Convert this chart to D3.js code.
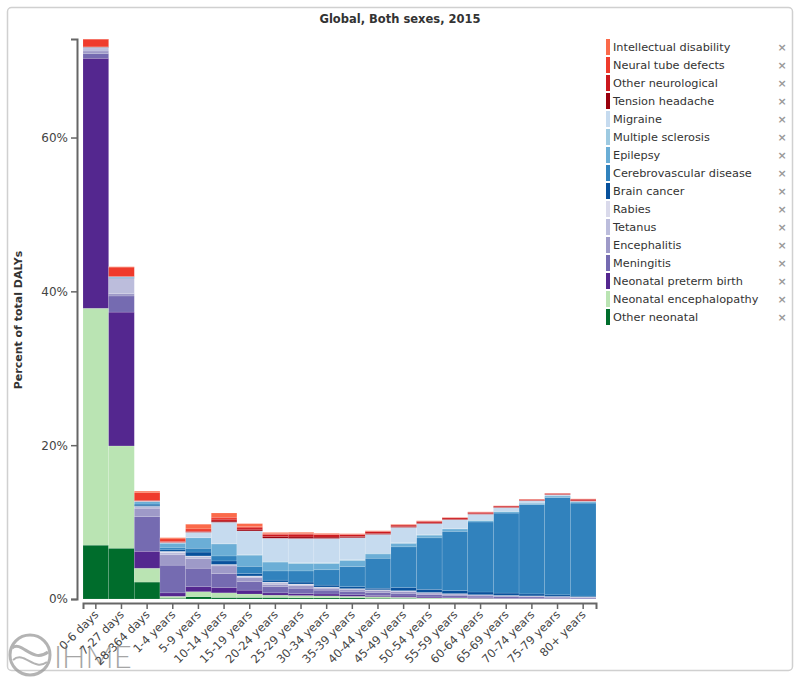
<!DOCTYPE html>
<html>
<head>
<meta charset="utf-8">
<script src="https://cdn.jsdelivr.net/npm/d3@7"></script>
<style>
  html, body { margin: 0; padding: 0; background: #fff; }
  svg { display: block; font-family: "DejaVu Sans", sans-serif; }
</style>
</head>
<body>
<svg id="chart" width="800" height="679"></svg>
<script>
// ---------- DATA ----------
const categories = ["0-6 days","7-27 days","28-364 days","1-4 years","5-9 years","10-14 years","15-19 years","20-24 years","25-29 years","30-34 years","35-39 years","40-44 years","45-49 years","50-54 years","55-59 years","60-64 years","65-69 years","70-74 years","75-79 years","80+ years"];

// stacking order: bottom -> top
const seriesNames = ["Other neonatal","Neonatal encephalopathy","Neonatal preterm birth","Meningitis","Encephalitis","Tetanus","Rabies","Brain cancer","Cerebrovascular disease","Epilepsy","Multiple sclerosis","Migraine","Tension headache","Other neurological","Neural tube defects","Intellectual disability"];
const seriesColors = ["#006d2c","#bae4b3","#54278f","#756bb1","#9e9ac8","#bcbddc","#dadaeb","#08519c","#3182bd","#6baed6","#9ecae1","#c6dbef","#99000d","#cb181d","#ef3b2c","#fb6a4a"];

const otherNeonatal   = [7.0, 6.6, 2.2, 0.1, 0.3, 0.2, 0.2, 0.2, 0.15, 0.15, 0.15, 0.1, 0.08, 0.05, 0.05, 0.03, 0.02, 0.02, 0.01, 0.01];
const neonatalEnceph  = [30.8, 13.3, 1.8, 0.25, 0.65, 0.6, 0.45, 0.3, 0.3, 0.25, 0.2, 0.2, 0.15, 0.1, 0.08, 0.05, 0.03, 0.02, 0.02, 0.01];
const pretermBirth    = [32.5, 17.4, 2.2, 0.45, 0.65, 0.7, 0.5, 0.3, 0.25, 0.25, 0.2, 0.15, 0.15, 0.12, 0.1, 0.08, 0.05, 0.04, 0.03, 0.02];
const meningitis      = [0.6, 2.1, 4.5, 3.6, 2.4, 1.8, 1.1, 0.8, 0.7, 0.5, 0.45, 0.4, 0.35, 0.3, 0.25, 0.22, 0.2, 0.18, 0.15, 0.12];
const encephalitis    = [0.35, 0.3, 1.1, 1.35, 1.25, 1.0, 0.55, 0.3, 0.35, 0.25, 0.25, 0.25, 0.25, 0.2, 0.15, 0.12, 0.12, 0.1, 0.1, 0.08];
const tetanus         = [0.4, 2.0, 0.2, 0.3, 0.3, 0.15, 0.15, 0.2, 0.15, 0.1, 0.07, 0.07, 0.05, 0.05, 0.04, 0.04, 0.03, 0.03, 0.02, 0.02];
const rabies          = [0, 0, 0.05, 0.15, 0.05, 0.05, 0.05, 0.1, 0.05, 0.05, 0.03, 0.03, 0.05, 0.03, 0.03, 0.02, 0.02, 0.02, 0.01, 0.01];
const brainCancer     = [0.02, 0.05, 0.15, 0.2, 0.5, 0.45, 0.3, 0.25, 0.25, 0.25, 0.25, 0.2, 0.4, 0.4, 0.4, 0.35, 0.3, 0.25, 0.2, 0.1];
const cerebrovascular = [0.02, 0.05, 0.15, 0.25, 0.5, 0.65, 0.95, 1.2, 1.45, 2.0, 2.6, 3.9, 5.3, 6.7, 7.7, 9.1, 10.4, 11.6, 12.65, 12.1];
const epilepsy        = [0.05, 0.1, 0.3, 0.6, 1.35, 1.55, 1.45, 1.15, 0.95, 0.8, 0.8, 0.55, 0.45, 0.35, 0.3, 0.2, 0.2, 0.2, 0.2, 0.15];
const multipleSclerosis = [0, 0, 0.02, 0, 0.02, 0.03, 0.05, 0.1, 0.12, 0.12, 0.12, 0.1, 0.08, 0.06, 0.05, 0.03, 0.02, 0.01, 0.01, 0];
const migraine        = [0, 0, 0.05, 0.1, 0.7, 2.8, 3.1, 3.0, 3.15, 3.15, 2.85, 2.45, 2.0, 1.45, 1.15, 0.78, 0.48, 0.3, 0.15, 0.1];
const tensionHeadache = [0, 0, 0, 0.02, 0.05, 0.15, 0.15, 0.2, 0.2, 0.18, 0.15, 0.12, 0.1, 0.08, 0.08, 0.07, 0.06, 0.05, 0.05, 0.05];
const otherNeuro      = [0.05, 0.05, 0.1, 0.1, 0.1, 0.25, 0.25, 0.3, 0.35, 0.3, 0.25, 0.25, 0.2, 0.2, 0.17, 0.18, 0.15, 0.13, 0.13, 0.2];
const neuralTube      = [1.0, 1.2, 1.0, 0.35, 0.3, 0.25, 0.15, 0.1, 0.1, 0.08, 0.05, 0.05, 0.05, 0.04, 0.03, 0.03, 0.02, 0.02, 0.01, 0.03];
const intellectual    = [0.02, 0.05, 0.2, 0.15, 0.6, 0.55, 0.4, 0.15, 0.15, 0.1, 0.07, 0.05, 0.06, 0.04, 0.03, 0.03, 0.02, 0.02, 0.02, 0.02];

const seriesValues = [otherNeonatal, neonatalEnceph, pretermBirth, meningitis, encephalitis, tetanus, rabies, brainCancer, cerebrovascular, epilepsy, multipleSclerosis, migraine, tensionHeadache, otherNeuro, neuralTube, intellectual];
const yTicks = [0, 20, 40, 60];
const titleText = "Global, Both sexes, 2015";
const yLabel = "Percent of total DALYs";

// ---------- BUILD ----------
const svg = d3.select("#chart");

// frame
svg.append("rect").attr("x", 7.5).attr("y", 7.5).attr("width", 785).attr("height", 663)
  .attr("rx", 4).attr("fill", "#fff").attr("stroke", "#d0d0d0").attr("stroke-width", 1.5);

svg.append("text").attr("x", 400).attr("y", 23).attr("text-anchor", "middle")
  .attr("font-size", 11.5).attr("font-weight", "bold").attr("fill", "#333").text(titleText);

const table = categories.map((c, i) => {
  const row = { cat: c };
  seriesNames.forEach((s, j) => row[s] = seriesValues[j][i]);
  return row;
});
const stacked = d3.stack().keys(seriesNames)(table);
const totals = table.map(r => d3.sum(seriesNames, s => r[s]));

const x = d3.scaleBand().domain(categories).range([83, 596]).padding(0);
const y = d3.scaleLinear().domain([0, d3.max(totals)]).range([599, 39]);

// IHME watermark
const logo = svg.append("g").attr("opacity", 0.75);
logo.append("circle").attr("cx", 30).attr("cy", 655).attr("r", 20)
  .attr("fill", "none").attr("stroke", "#9a9a9a").attr("stroke-width", 3);
logo.append("path").attr("d", "M12,648 C22,640 32,664 48,652").attr("fill", "none").attr("stroke", "#9a9a9a").attr("stroke-width", 3);
logo.append("path").attr("d", "M13,660 C24,650 34,672 47,662").attr("fill", "none").attr("stroke", "#9a9a9a").attr("stroke-width", 2);
logo.append("text").attr("x", 54).attr("y", 668).attr("font-size", 31).attr("font-family", "Lato, sans-serif")
  .attr("font-weight", 300).attr("fill", "#888").text("IHME");

// bars
const g = svg.append("g");
g.selectAll("g.layer").data(stacked).join("g")
  .attr("class", "layer")
  .attr("fill", (d, i) => seriesColors[i])
  .selectAll("rect").data(d => d).join("rect")
  .attr("x", d => x(d.data.cat))
  .attr("width", x.bandwidth())
  .attr("y", d => y(d[1]))
  .attr("height", d => Math.max(0, y(d[0]) - y(d[1])))
  .attr("stroke", "#fff").attr("stroke-opacity", 0.2).attr("stroke-width", 0.6);

// y axis
const yAxis = svg.append("g").attr("transform", "translate(77,0)")
  .call(d3.axisLeft(y).tickValues(yTicks).tickFormat(d => d + "%").tickSize(6).tickSizeOuter(6));
yAxis.select(".domain").attr("stroke", "#666").attr("stroke-width", 2);
yAxis.selectAll(".tick line").attr("stroke", "#666").attr("stroke-width", 1.5);
yAxis.selectAll(".tick text").attr("font-size", 12).attr("fill", "#444").attr("font-family", "DejaVu Sans, sans-serif");

// x axis
const xAxis = svg.append("g").attr("transform", "translate(0,603)")
  .call(d3.axisBottom(x).tickSize(6).tickSizeOuter(6));
xAxis.select(".domain").attr("stroke", "#666").attr("stroke-width", 2);
xAxis.selectAll(".tick line").attr("stroke", "#666").attr("stroke-width", 1.5);
xAxis.selectAll(".tick text")
  .attr("font-size", 11.5).attr("fill", "#444").attr("font-family", "DejaVu Sans, sans-serif")
  .attr("text-anchor", "end")
  .attr("dx", "0").attr("dy", "0")
  .attr("transform", "translate(-3,6) rotate(-45)");

// y label
svg.append("text")
  .attr("transform", "translate(22,320) rotate(-90)")
  .attr("text-anchor", "middle").attr("font-size", 11).attr("font-weight", "bold").attr("fill", "#333")
  .text(yLabel);

// legend (top item = last series)
const legendItems = seriesNames.map((s, i) => ({ name: s, color: seriesColors[i] })).reverse();
const lg = svg.append("g");
const li = lg.selectAll("g").data(legendItems).join("g")
  .attr("transform", (d, i) => `translate(606,${47 + i * 18})`);
li.append("rect").attr("x", 0).attr("y", -8).attr("width", 4).attr("height", 16).attr("fill", d => d.color);
li.append("text").attr("x", 7).attr("y", 4).attr("font-size", 11.3).attr("fill", "#333").text(d => d.name);
li.append("text").attr("x", 176).attr("y", 4).attr("font-size", 11).attr("font-weight", "bold")
  .attr("fill", "#999").attr("text-anchor", "middle").text("×");
</script>
</body>
</html>
